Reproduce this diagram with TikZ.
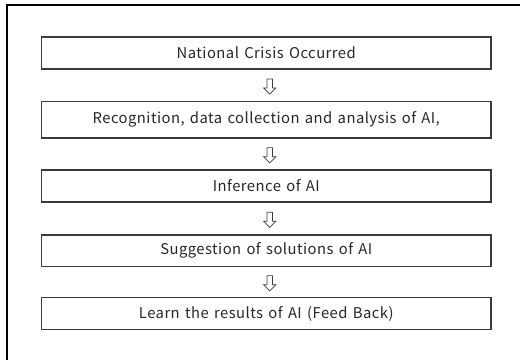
\documentclass[tikz,border=0pt]{standalone}
\usepackage{fontspec}
\setmainfont[WordSpace=1.4,LetterSpace=3.2]{Noto Sans CJK KR}
\usetikzlibrary{shapes.arrows,calc}
\definecolor{boxline}{HTML}{3C3C3C}
\definecolor{txt}{HTML}{262626}
\begin{document}
\begin{tikzpicture}[x=1pt,y=-1pt,
  stepbox/.style={draw=boxline,line width=1.2pt,minimum width=449.5pt,inner sep=0pt,
    text=txt,font=\fontsize{14.8}{17}\selectfont},
  downarrow/.style={single arrow,draw=boxline,line width=0.75pt,shape border rotate=270,
    minimum height=15pt,inner sep=2.3pt,single arrow head extend=3.3pt,
    single arrow head indent=0pt,fill=white}]
\useasboundingbox (0,0) rectangle (520,360);
% outer frame (top and left edges)
\draw[line width=1.4pt] (7,360) -- (7,5) -- (520,5);
% process steps
\node[stepbox,minimum height=32pt] (b1) at (266.25,53) {National Crisis Occurred};
\node[stepbox,minimum height=36.5pt] (b2) at (266.25,119.75) {Recognition, data collection and analysis of AI,};
\node[stepbox,minimum height=32pt] (b3) at (266.25,186) {Inference of AI};
\node[stepbox,minimum height=31.5pt] (b4) at (266.25,250.75) {Suggestion of solutions of AI};
\node[stepbox,minimum height=32pt] (b5) at (266.25,313.5) {Learn the results of AI (Feed Back)};
% hollow arrows between consecutive steps
\foreach \a/\b/\n in {b1/b2/r1,b2/b3/r2,b3/b4/r3,b4/b5/r4}
  \node[downarrow] (\n) at ($($(\a.south)!0.5!(\b.north)$)+(3.5,0)$) {};
\end{tikzpicture}
\end{document}
